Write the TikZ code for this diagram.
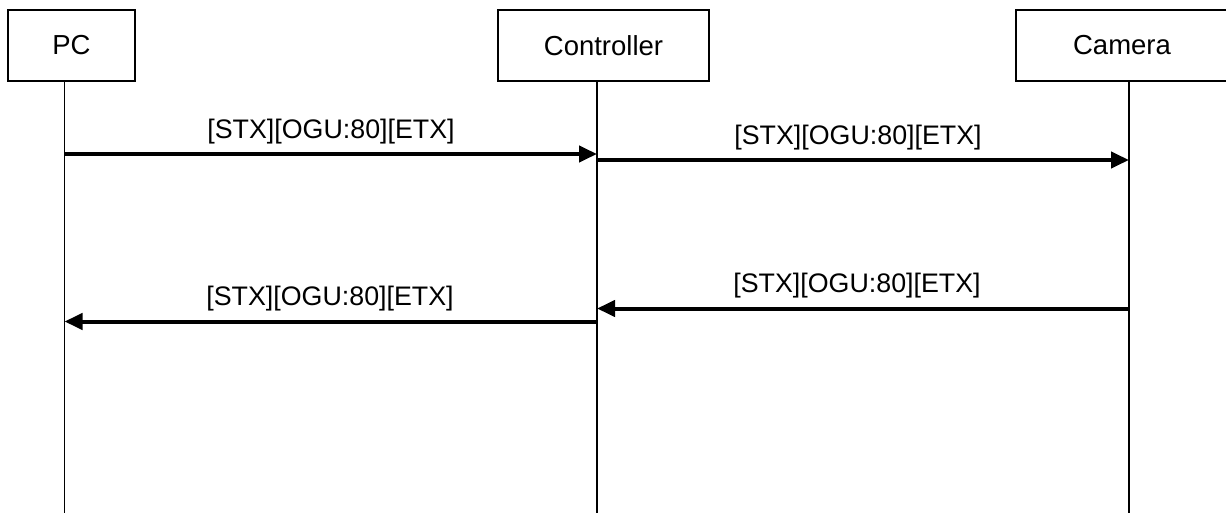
\documentclass[tikz,border=0pt]{standalone}
\usepackage{fontspec}
\setmainfont{Liberation Sans}
\usetikzlibrary{arrows.meta}
\begin{document}
\begin{tikzpicture}[x=1pt,y=-1pt,
  actor/.style={draw=black, line width=1.3pt, minimum height=71pt, inner sep=0pt, font=\fontsize{27.5}{32}\selectfont},
  lifeline/.style={draw=black, line width=1.5pt},
  msg/.style={draw=black, line width=4pt, -{Triangle[length=18pt,width=16pt]}},
  msglabel/.style={anchor=base, inner sep=0pt, font=\fontsize{26.8}{30}\selectfont}]
\useasboundingbox (0,0) rectangle (1226,513);
\begin{scope}
\clip (0,0) rectangle (1226,513);
% actors
\node[actor, minimum width=127pt] (pc) at (71.5,45.5) {PC};
\node[actor, minimum width=211pt] (ctrl) at (603.5,45.5) {Controller};
\node[actor, minimum width=212pt] (cam) at (1122,45.5) {Camera};
% lifeline coordinates
\coordinate (pcTop) at (64.5,81);
\coordinate (pcBot) at (64.5,516);
\coordinate (ctTop) at (597,81);
\coordinate (ctBot) at (597,516);
\coordinate (caTop) at (1129,81);
\coordinate (caBot) at (1129,516);
\draw[lifeline] (pcTop) -- (pcBot);
\draw[lifeline] (ctTop) -- (ctBot);
\draw[lifeline] (caTop) -- (caBot);
% message end points
\coordinate (m1a) at (64.5,154);
\coordinate (m1b) at (597,154);
\coordinate (m2a) at (597,160);
\coordinate (m2b) at (1129,160);
\coordinate (m3a) at (1129,308.5);
\coordinate (m3b) at (597,308.5);
\coordinate (m4a) at (597,321.5);
\coordinate (m4b) at (64.5,321.5);
\draw[msg] (m1a) -- (m1b);
\draw[msg] (m2a) -- (m2b);
\draw[msg] (m3a) -- (m3b);
\draw[msg] (m4a) -- (m4b);
% labels
\node[msglabel] (l1) at (331,139) {[STX][OGU:80][ETX]};
\node[msglabel] (l2) at (858,145) {[STX][OGU:80][ETX]};
\node[msglabel] (l3) at (857,292) {[STX][OGU:80][ETX]};
\node[msglabel] (l4) at (330,305) {[STX][OGU:80][ETX]};
\end{scope}
\end{tikzpicture}
\end{document}
